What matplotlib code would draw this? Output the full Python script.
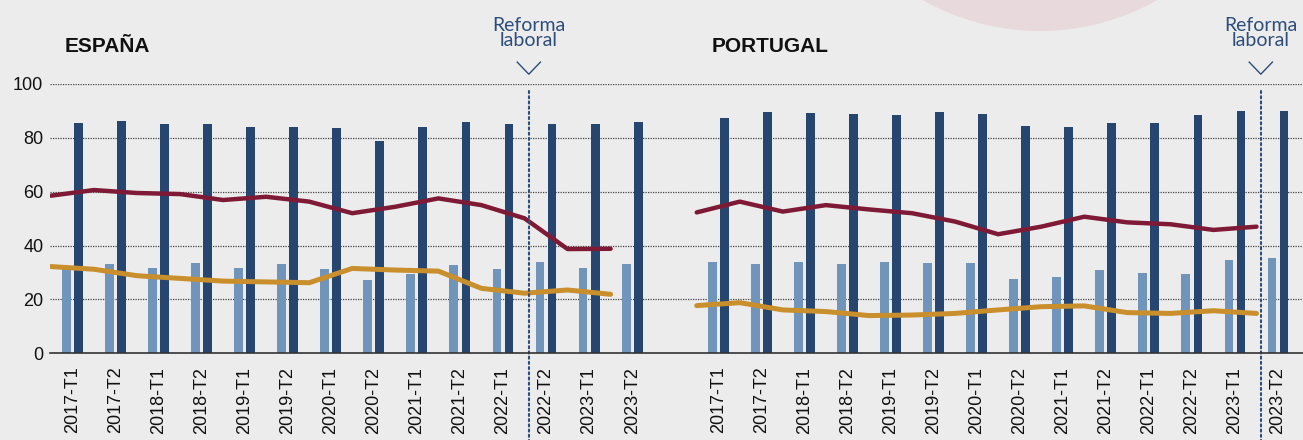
import numpy as np
import matplotlib
matplotlib.use("Agg")
import matplotlib.pyplot as plt
from matplotlib.patches import Ellipse

labels = ['2017-T1', '2017-T2', '2018-T1', '2018-T2', '2019-T1', '2019-T2', '2020-T1',
          '2020-T2', '2021-T1', '2021-T2', '2022-T1', '2022-T2', '2023-T1', '2023-T2']

esp_light = [32.0, 33.1, 31.7, 33.5, 31.7, 33.1, 31.3, 27.2, 29.4, 32.8, 31.3, 33.9, 31.7, 33.1]
esp_dark = [85.5, 86.2, 85.1, 85.1, 84.0, 84.0, 83.7, 78.9, 84.0, 85.9, 85.1, 85.1, 85.1, 85.9]
esp_maroon = [58.5, 60.6, 59.5, 59.1, 56.9, 58.1, 56.3, 52.0, 54.4, 57.5, 55.0, 50.1, 38.7, 38.8]
esp_gold = [32.2, 31.2, 28.8, 27.8, 26.8, 26.5, 26.2, 31.5, 30.9, 30.5, 24.1, 22.3, 23.5, 21.9]

por_light = [33.8, 33.1, 33.8, 33.1, 33.8, 33.5, 33.5, 27.5, 28.3, 30.9, 29.8, 29.4, 34.6, 35.3]
por_dark = [87.3, 89.5, 89.1, 88.8, 88.4, 89.5, 88.8, 84.4, 84.0, 85.5, 85.5, 88.4, 89.9, 89.9]
por_maroon = [52.3, 56.3, 52.6, 55.0, 53.4, 52.0, 48.9, 44.2, 47.0, 50.7, 48.6, 47.9, 45.8, 47.0]
por_gold = [17.7, 18.8, 16.1, 15.5, 14.0, 14.2, 14.8, 16.1, 17.3, 17.6, 15.1, 14.8, 15.8, 14.8]

yticks = [0, 20, 40, 60, 80, 100]
reform_pos = [10.6, 27.6]

bg = '#ececec'
c_light = '#7194bb'
c_dark = '#27466f'
c_maroon = '#7f1a36'
c_gold = '#c98f2c'
c_note = '#2d4d7a'

fig = plt.figure(figsize=(13.03, 4.4), dpi=100, facecolor=bg)
fig.add_artist(Ellipse((1040 / 1303, 1 + 207 / 440), 2 * 238 / 1303, 2 * 238 / 440,
                       transform=fig.transFigure, facecolor='#e8d9dc', edgecolor='none', zorder=0))

ax = fig.add_axes([50 / 1303, 1 - 353.3 / 440, 1253 / 1303, (353.3 - 83.9) / 440])
ax.patch.set_visible(False)

x_esp = np.arange(len(labels))
x_por = x_esp + 15
w = 0.205
off = 0.14

for xs, light, dark, maroon, gold in [(x_esp, esp_light, esp_dark, esp_maroon, esp_gold),
                                      (x_por, por_light, por_dark, por_maroon, por_gold)]:
    ax.bar(xs - off, light, width=w, color=c_light, zorder=2)
    ax.bar(xs + off, dark, width=w, color=c_dark, zorder=2)
    ax.plot(xs - 0.5, maroon, color=c_maroon, lw=3.2, solid_capstyle='round',
            solid_joinstyle='round', zorder=3)
    ax.plot(xs - 0.5, gold, color=c_gold, lw=3.6, solid_capstyle='round',
            solid_joinstyle='round', zorder=3)

ax.set_xlim(-0.52, 28.58)
ax.set_ylim(0, 100)
ax.set_yticks(yticks)
ax.set_yticklabels([str(v) for v in yticks], family='Liberation Sans', fontsize=13, color='#111111')
ax.set_xticks(np.concatenate([x_esp, x_por]))
ax.set_xticklabels(labels + labels, rotation=90, family='Liberation Sans', fontsize=13,
                   color='#111111', va='top')
ax.tick_params(axis='x', length=0, pad=9.6)
ax.tick_params(axis='y', length=0, pad=4.8)
for s in ['left', 'right', 'top']:
    ax.spines[s].set_visible(False)
ax.spines['bottom'].set_color('#333333')
ax.spines['bottom'].set_linewidth(1.2)
ax.spines['bottom'].set_zorder(4)
for v in yticks[1:]:
    ax.axhline(v, color='#444444', lw=0.9, ls=(0, (1, 1)), zorder=1)

for xr in reform_pos:
    ax.plot([xr, xr], [97.2, -33], color=c_note, lw=1.5, ls=(0, (1, 1.5)),
            dash_capstyle='round', clip_on=False, zorder=4)
    ax.plot([xr - 0.27, xr, xr + 0.27], [108.1, 103.6, 108.1], color=c_note, lw=1.0,
            clip_on=False)
    ax.text(xr, 118.9, 'Reforma\nlaboral', ha='center', va='center', family='Lato',
            fontsize=14, color=c_note, linespacing=0.88, clip_on=False)

fig.text(65 / 1303, 1 - 52 / 440, 'ESPAÑA', family='Liberation Sans', fontweight='bold',
         fontsize=15, color='#111111', va='baseline')
fig.text(712 / 1303, 1 - 52 / 440, 'PORTUGAL', family='Liberation Sans', fontweight='bold',
         fontsize=15, color='#111111', va='baseline')

fig.savefig('out.png', dpi=100, facecolor=bg)
